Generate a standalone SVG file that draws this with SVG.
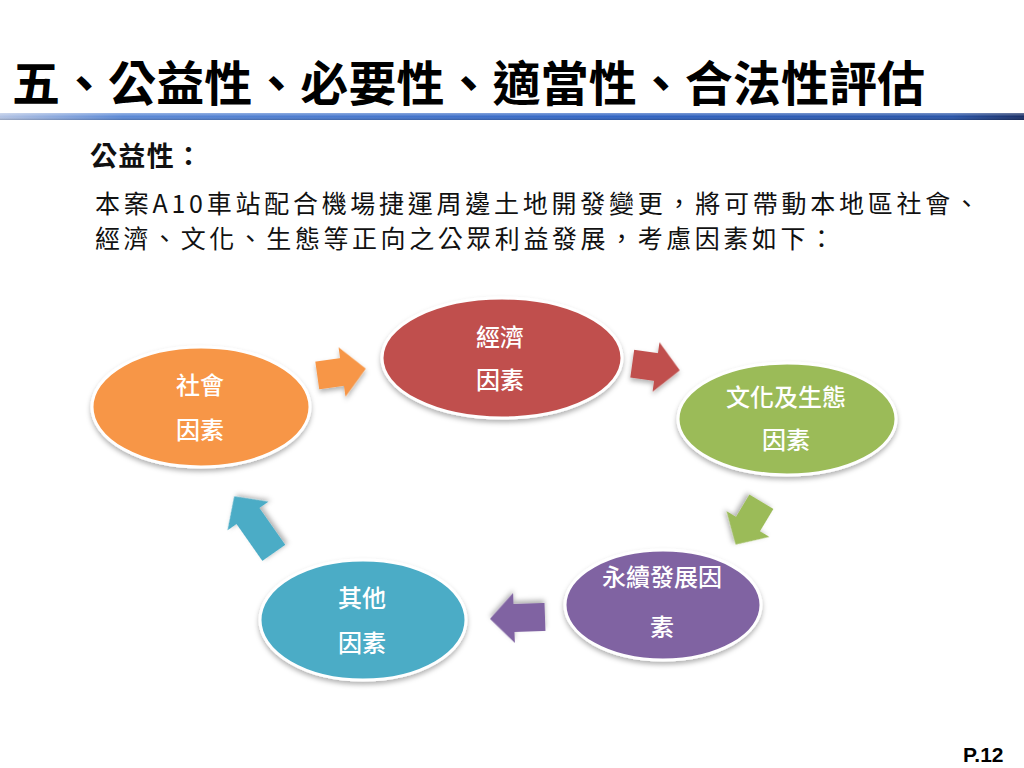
<svg xmlns="http://www.w3.org/2000/svg" width="1024" height="768" viewBox="0 0 1024 768">
<defs>
<linearGradient id="bar" x1="0" y1="0" x2="1" y2="0">
<stop offset="0" stop-color="#b4c4e4"/>
<stop offset="0.12" stop-color="#5d8ad6"/>
<stop offset="0.6" stop-color="#3366c4"/>
<stop offset="0.93" stop-color="#2a55a8"/>
<stop offset="1" stop-color="#1a2f66"/>
</linearGradient>
<linearGradient id="barv" x1="0" y1="0" x2="0" y2="1">
<stop offset="0" stop-color="#ffffff" stop-opacity="0.35"/>
<stop offset="0.5" stop-color="#ffffff" stop-opacity="0"/>
<stop offset="1" stop-color="#000000" stop-opacity="0.2"/>
</linearGradient>
<filter id="sh" x="-20%" y="-20%" width="140%" height="150%">
<feDropShadow dx="0" dy="3" stdDeviation="2.5" flood-color="#000" flood-opacity="0.3"/>
</filter>
</defs>
<style>
.title{font-family:"Noto Sans CJK TC","Noto Sans CJK SC",sans-serif;font-weight:700;font-size:48px;fill:#000}
.sub{font-family:"Noto Sans CJK TC",sans-serif;font-weight:700;font-size:27px;fill:#111}
.para{font-family:"Noto Sans CJK TC",sans-serif;font-size:25px;fill:#111}
.node ellipse{stroke:#fff;stroke-width:3;filter:url(#sh)}
.node text{font-family:"Noto Sans CJK TC",sans-serif;font-weight:500;font-size:24px;fill:#fff;text-anchor:middle}
.arr{filter:url(#sh)}
.pg{font-family:"Liberation Sans",Arial,sans-serif;font-weight:700;font-size:21px;fill:#000}
</style>
<rect width="1024" height="768" fill="#fff"/>
<text class="title" x="12" y="101" textLength="913" lengthAdjust="spacing">五、公益性、必要性、適當性、合法性評估</text>
<rect x="0" y="113" width="1024" height="7" fill="url(#bar)"/>
<rect x="0" y="113" width="1024" height="7" fill="url(#barv)"/>
<text class="sub" x="90" y="166" textLength="112" lengthAdjust="spacing">公益性：</text>
<text class="para" x="95" y="213" textLength="884" lengthAdjust="spacing">本案A10車站配合機場捷運周邊土地開發變更，將可帶動本地區社會、</text>
<text class="para" x="95" y="248" textLength="739" lengthAdjust="spacing">經濟、文化、生態等正向之公眾利益發展，考慮因素如下：</text>

<g id="connectors">
<path class="arr" fill="#F79646" transform="translate(342,372) rotate(-8)" d="M-25,-14 L0,-14 L0,-25 L24,0 L0,25 L0,14 L-25,14 Z"/>
<path class="arr" fill="#C0504D" transform="translate(656,367) rotate(8)" d="M-24,-14 L0,-14 L0,-25 L24,0 L0,25 L0,14 L-24,14 Z"/>
<path class="arr" fill="#9BBB59" transform="translate(748,524) rotate(121)" d="M-26,-14 L0,-14 L0,-25 L24,0 L0,25 L0,14 L-26,14 Z"/>
<path class="arr" fill="#8064A2" transform="translate(514,618) rotate(178)" d="M-31,-14 L0,-14 L0,-25 L24,0 L0,25 L0,14 L-31,14 Z"/>
<path class="arr" fill="#4BACC6" transform="translate(248,516) rotate(-125)" d="M-45,-14 L0,-14 L0,-25 L24,0 L0,25 L0,14 L-45,14 Z"/>
</g>

<g id="node-social" class="node">
<ellipse cx="201" cy="407" rx="109" ry="60" fill="#F79646"/>
<text x="200" y="394">社會</text>
<text x="200" y="439">因素</text>
</g>
<g id="node-economy" class="node">
<ellipse cx="502" cy="358" rx="120" ry="60" fill="#C0504D"/>
<text x="500" y="346">經濟</text>
<text x="500" y="389">因素</text>
</g>
<g id="node-culture" class="node">
<ellipse cx="787" cy="419" rx="109" ry="56" fill="#9BBB59"/>
<text x="786" y="406">文化及生態</text>
<text x="786" y="449">因素</text>
</g>
<g id="node-sustain" class="node">
<ellipse cx="663" cy="605" rx="98" ry="55" fill="#8064A2"/>
<text x="662" y="586">永續發展因</text>
<text x="662" y="636">素</text>
</g>
<g id="node-other" class="node">
<ellipse cx="363" cy="620" rx="103" ry="60" fill="#4BACC6"/>
<text x="362" y="607">其他</text>
<text x="362" y="652">因素</text>
</g>

<text class="pg" x="963" y="762">P.12</text>
</svg>
